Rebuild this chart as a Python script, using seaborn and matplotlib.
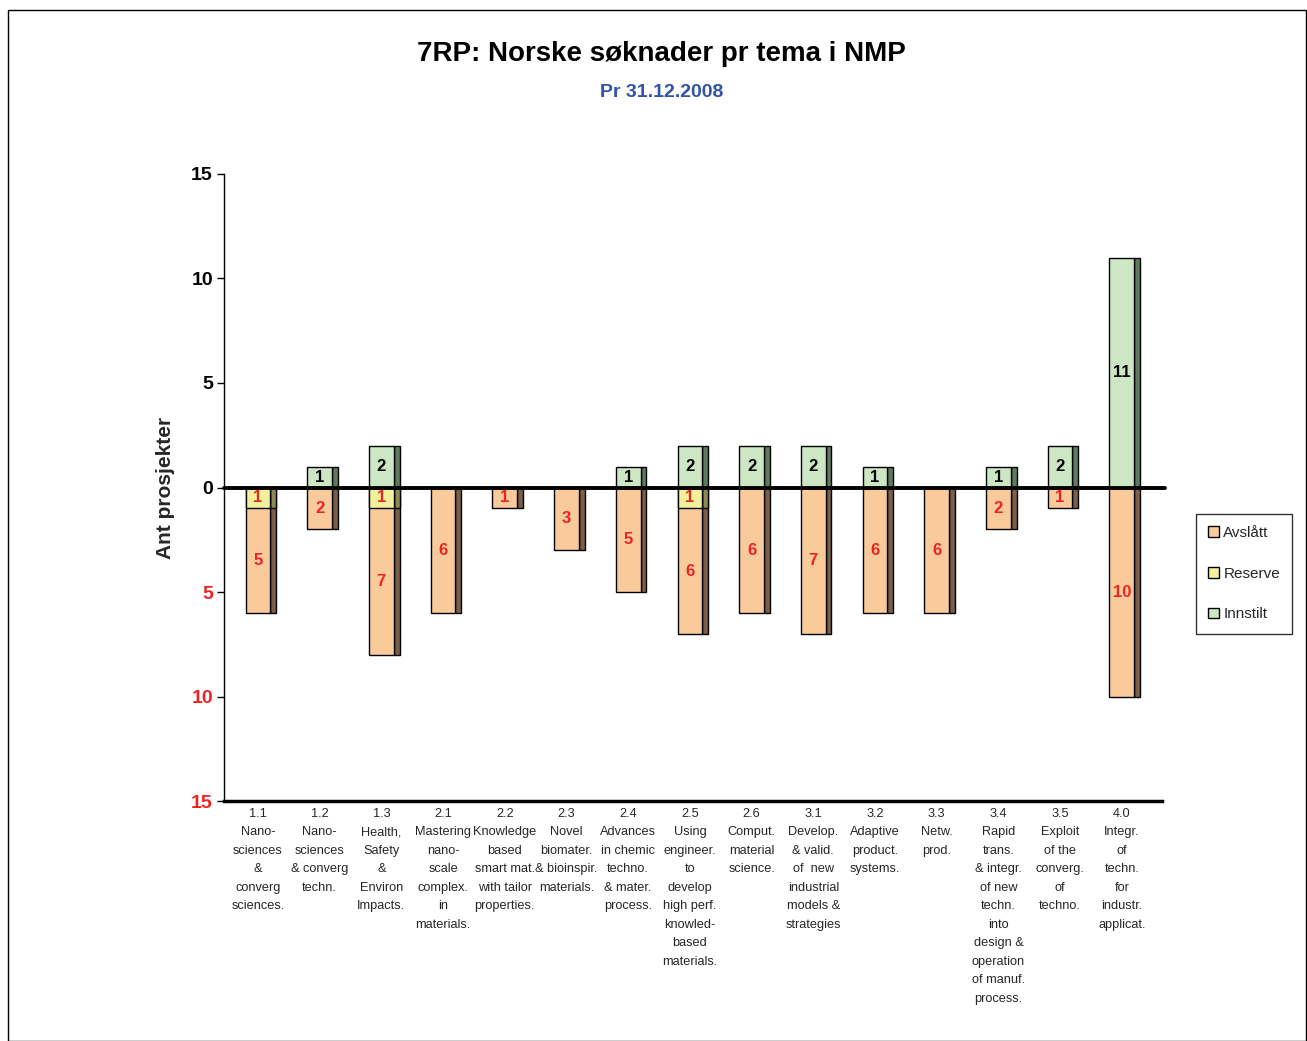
import numpy as np
import pandas as pd
import matplotlib
matplotlib.use("Agg")
import matplotlib.pyplot as plt
import seaborn as sns
from matplotlib.patches import Rectangle, Patch

sns.set_theme(style="white")
plt.rcParams['font.family'] = ['Liberation Sans', 'DejaVu Sans']

# data
codes = ["1.1", "1.2", "1.3", "2.1", "2.2", "2.3", "2.4", "2.5", "2.6",
         "3.1", "3.2", "3.3", "3.4", "3.5", "4.0"]
tick_labels = [
    "1.1\nNano-\nsciences\n&\nconverg\nsciences.",
    "1.2\nNano-\nsciences\n& converg\ntechn.",
    "1.3\nHealth,\nSafety\n&\nEnviron\nImpacts.",
    "2.1\nMastering\nnano-\nscale\ncomplex.\nin\nmaterials.",
    "2.2\nKnowledge\nbased\nsmart mat.\nwith tailor\nproperties.",
    "2.3\nNovel\nbiomater.\n& bioinspir.\nmaterials.",
    "2.4\nAdvances\nin chemic\ntechno.\n& mater.\nprocess.",
    "2.5\nUsing\nengineer.\nto\ndevelop\nhigh perf.\nknowled-\nbased\nmaterials.",
    "2.6\nComput.\nmaterial\nscience.",
    "3.1\nDevelop.\n& valid.\nof  new\nindustrial\nmodels &\nstrategies",
    "3.2\nAdaptive\nproduct.\nsystems.",
    "3.3\nNetw.\nprod.",
    "3.4\nRapid\ntrans.\n& integr.\nof new\ntechn.\ninto\ndesign &\noperation\nof manuf.\nprocess.",
    "3.5\nExploit\nof the\nconverg.\nof\ntechno.",
    "4.0\nIntegr.\nof\ntechn.\nfor\nindustr.\napplicat.",
]
avslatt = [5, 2, 7, 6, 1, 3, 5, 6, 6, 7, 6, 6, 2, 1, 10]
reserve = [1, 0, 1, 0, 0, 0, 0, 1, 0, 0, 0, 0, 0, 0, 0]
innstilt = [0, 1, 2, 0, 0, 0, 1, 2, 2, 2, 1, 0, 1, 2, 11]

c_avs, c_res, c_inn = "#F9CB9B", "#F4F19B", "#CDE6C4"
s_avs, s_res, s_inn = "#7A5E48", "#8C8A52", "#5F7A5F"

df = pd.DataFrame({"tema": codes, "avslatt": avslatt, "reserve": reserve, "innstilt": innstilt})
df["neg_total"] = -(df["avslatt"] + df["reserve"])
df["neg_res"] = -df["reserve"]

fig = plt.figure(figsize=(13.07, 10.41), dpi=100)
ax = fig.add_axes([0.1714, 0.2305, 0.7176, 0.6024])

face_w, side_w = 0.40, 0.095
x = np.arange(len(codes))
side_x = x + face_w / 2 + side_w / 2

# darker right-hand side of each bar (pseudo 3D)
for vals, col in [(df["neg_total"], s_avs), (df["neg_res"], s_res), (df["innstilt"], s_inn)]:
    mask = vals != 0
    ax.bar(side_x[mask], vals[mask], width=side_w, color=col, edgecolor="black", linewidth=1, zorder=2)

sns.barplot(data=df, x="tema", y="neg_total", color=c_avs, width=face_w, saturation=1,
            edgecolor="black", linewidth=1, errorbar=None, ax=ax, zorder=3)
sns.barplot(data=df[df["reserve"] > 0], x="tema", y="neg_res", order=codes, color=c_res,
            width=face_w, saturation=1, edgecolor="black", linewidth=1, errorbar=None, ax=ax, zorder=3)
sns.barplot(data=df[df["innstilt"] > 0], x="tema", y="innstilt", order=codes, color=c_inn,
            width=face_w, saturation=1, edgecolor="black", linewidth=1, errorbar=None, ax=ax, zorder=3)

# value labels
for i in range(len(codes)):
    if innstilt[i]:
        ax.text(i, innstilt[i] / 2, str(innstilt[i]), ha="center", va="center",
                fontsize=12, fontweight="bold", color="black", zorder=5)
    if reserve[i]:
        ax.text(i, -reserve[i] / 2, str(reserve[i]), ha="center", va="center",
                fontsize=12, fontweight="bold", color="#EE2222", zorder=5)
    if avslatt[i]:
        ax.text(i, -reserve[i] - avslatt[i] / 2, str(avslatt[i]), ha="center", va="center",
                fontsize=12, fontweight="bold", color="#EE2222", zorder=5)

ax.set_xlim(-0.55, 14.65)
ax.set_ylim(-15, 15)
ax.set_yticks([-15, -10, -5, 0, 5, 10, 15])
ax.set_yticklabels(["15", "10", "5", "0", "5", "10", "15"], fontsize=14, fontweight="bold")
for t, v in zip(ax.get_yticklabels(), [-15, -10, -5, 0, 5, 10, 15]):
    t.set_color("#EE2222" if v < 0 else "black")
ax.tick_params(axis="y", length=5, width=1, color="black", left=True, pad=3)
ax.set_xticks(x)
ax.set_xticklabels(tick_labels, fontsize=9.2, linespacing=1.72, va="top")
ax.tick_params(axis="x", length=0, pad=5)
ax.set_xlabel("")
ax.set_ylabel("Ant prosjekter", fontsize=15, fontweight="bold")
ax.yaxis.set_label_coords(-0.052, 0.5)

for side in ["top", "right"]:
    ax.spines[side].set_visible(False)
ax.spines["left"].set_color("black")
ax.spines["left"].set_linewidth(1)
ax.spines["bottom"].set_color("black")
ax.spines["bottom"].set_linewidth(2.5)
ax.axhline(0, xmin=0, xmax=1.003, color="black", linewidth=2.8, zorder=6, clip_on=False)
ax.grid(False)

fig.text(0.506, 0.948, "7RP: Norske søknader pr tema i NMP", ha="center", va="center",
         fontsize=20, fontweight="bold", color="black")
fig.text(0.506, 0.911, "Pr 31.12.2008", ha="center", va="center",
         fontsize=14, fontweight="bold", color="#3153A8")

handles = [Patch(facecolor=c_avs, edgecolor="black", label="Avslått"),
           Patch(facecolor=c_res, edgecolor="black", label="Reserve"),
           Patch(facecolor=c_inn, edgecolor="black", label="Innstilt")]
leg = fig.legend(handles=handles, loc="center left", bbox_to_anchor=(0.915, 0.449),
                 fontsize=11, frameon=True, fancybox=False, labelspacing=1.75,
                 handlelength=0.7, handleheight=0.7, handletextpad=0.3,
                 borderpad=0.8, borderaxespad=0)
leg.get_frame().set_edgecolor("black")
leg.get_frame().set_linewidth(1)

# outer frame of the picture
fig.patches.append(Rectangle((0.006, 0.0), 0.993, 0.99, transform=fig.transFigure,
                             fill=False, edgecolor="black", linewidth=1))

fig.savefig("out.png", dpi=100, facecolor="white")
